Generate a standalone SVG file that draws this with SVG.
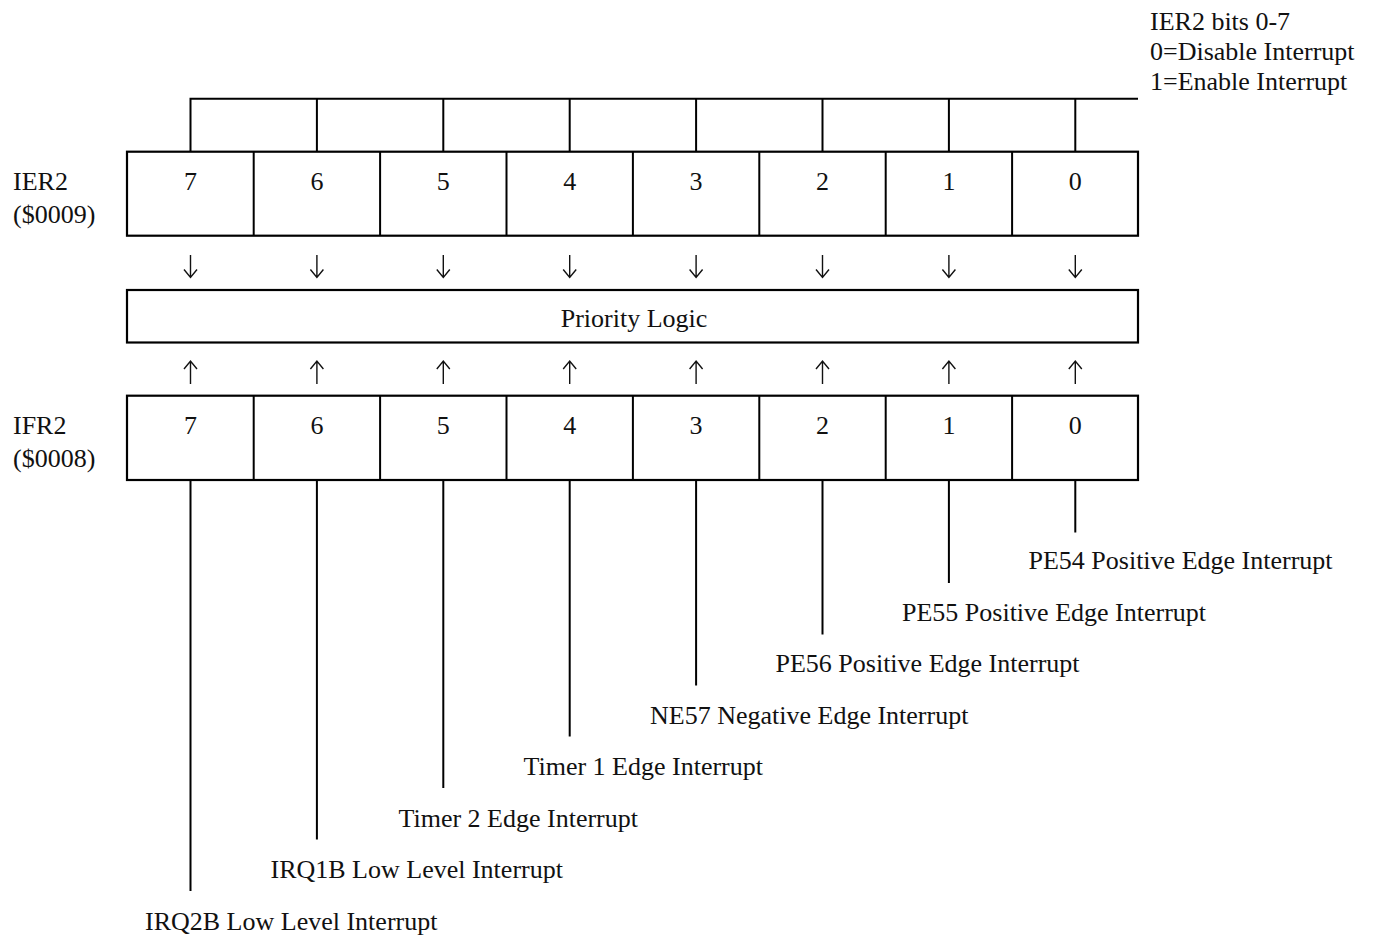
<svg xmlns="http://www.w3.org/2000/svg" width="1379" height="938" viewBox="0 0 1379 938">
<style>
text{font-family:"Liberation Serif","Times New Roman",serif;font-size:26px;fill:#111}
.c{text-anchor:middle}
.ln{stroke:#000;stroke-width:2;fill:none}
.ar{stroke:#111;stroke-width:1.4;fill:none}
.bx{stroke:#000;stroke-width:2.2;fill:#fff}
</style>
<defs>
<path id="dn" class="ar" d="M0 255V277.5M-6.5 269.5L0 277.5L6.5 269.5"/>
<path id="up" class="ar" d="M0 384V361M-6.5 369L0 361L6.5 369"/>
</defs>
<rect width="1379" height="938" fill="#fff"/>
<g id="legend">
<text x="1150" y="29.5">IER2 bits 0-7</text>
<text x="1150" y="60">0=Disable Interrupt</text>
<text x="1150" y="90">1=Enable Interrupt</text>
</g>
<g id="connectors">
<path class="ln" d="M189.5 98.7H1138M190.5 98.7V152M316.9 98.7V152M443.3 98.7V152M569.7 98.7V152M696.1 98.7V152M822.5 98.7V152M948.9 98.7V152M1075.3 98.7V152"/>
<path class="ln" d="M190.5 480V891M316.9 480V839.5M443.3 480V788M569.7 480V736.5M696.1 480V685.5M822.5 480V634.5M948.9 480V583M1075.3 480V532.5"/>
<g class="arrows">
<use href="#dn" x="190.5"/><use href="#dn" x="316.9"/><use href="#dn" x="443.3"/><use href="#dn" x="569.7"/><use href="#dn" x="696.1"/><use href="#dn" x="822.5"/><use href="#dn" x="948.9"/><use href="#dn" x="1075.3"/>
<use href="#up" x="190.5"/><use href="#up" x="316.9"/><use href="#up" x="443.3"/><use href="#up" x="569.7"/><use href="#up" x="696.1"/><use href="#up" x="822.5"/><use href="#up" x="948.9"/><use href="#up" x="1075.3"/>
</g>
</g>
<g id="ier2">
<rect class="bx" x="127" y="151.7" width="1011" height="84"/>
<path class="ln" d="M253.7 151.7V235.7M380.1 151.7V235.7M506.5 151.7V235.7M632.9 151.7V235.7M759.3 151.7V235.7M885.7 151.7V235.7M1012.1 151.7V235.7"/>
<text x="13" y="189.5">IER2</text>
<text x="13" y="222.5">($0009)</text>
<text class="c" x="190.5" y="190">7</text><text class="c" x="316.9" y="190">6</text><text class="c" x="443.3" y="190">5</text><text class="c" x="569.7" y="190">4</text><text class="c" x="696.1" y="190">3</text><text class="c" x="822.5" y="190">2</text><text class="c" x="948.9" y="190">1</text><text class="c" x="1075.3" y="190">0</text>
</g>
<g id="priority">
<rect class="bx" x="127" y="290" width="1011" height="52.5"/>
<text class="c" x="634" y="327">Priority Logic</text>
</g>
<g id="ifr2">
<rect class="bx" x="127" y="395.7" width="1011" height="84.3"/>
<path class="ln" d="M253.7 395.7V480M380.1 395.7V480M506.5 395.7V480M632.9 395.7V480M759.3 395.7V480M885.7 395.7V480M1012.1 395.7V480"/>
<text x="13" y="433.5">IFR2</text>
<text x="13" y="466.5">($0008)</text>
<text class="c" x="190.5" y="434">7</text><text class="c" x="316.9" y="434">6</text><text class="c" x="443.3" y="434">5</text><text class="c" x="569.7" y="434">4</text><text class="c" x="696.1" y="434">3</text><text class="c" x="822.5" y="434">2</text><text class="c" x="948.9" y="434">1</text><text class="c" x="1075.3" y="434">0</text>
</g>
<g id="labels">
<text x="1028.5" y="569.3">PE54 Positive Edge Interrupt</text>
<text x="902" y="620.8">PE55 Positive Edge Interrupt</text>
<text x="775.5" y="672.3">PE56 Positive Edge Interrupt</text>
<text x="650" y="723.8">NE57 Negative Edge Interrupt</text>
<text x="523.5" y="775.3">Timer 1 Edge Interrupt</text>
<text x="398.5" y="826.8">Timer 2 Edge Interrupt</text>
<text x="270.5" y="878.3">IRQ1B Low Level Interrupt</text>
<text x="145" y="929.8">IRQ2B Low Level Interrupt</text>
</g>
</svg>
